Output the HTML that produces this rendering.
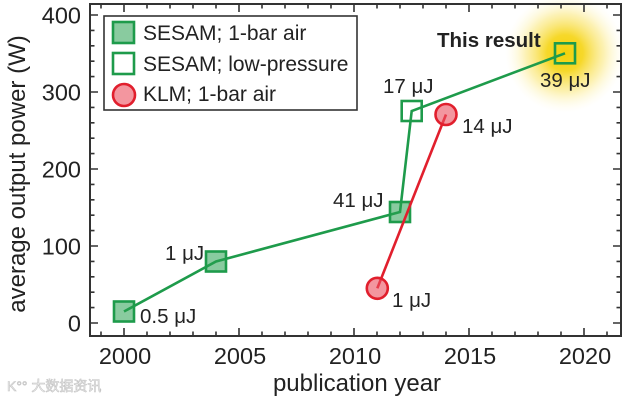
<!DOCTYPE html>
<html><head><meta charset="utf-8"><style>
html,body{margin:0;padding:0;background:#fff;}
svg{display:block;}
text{font-family:"Liberation Sans","Noto Sans CJK SC",sans-serif;fill:#222;}
</style></head><body>
<svg width="623" height="400" viewBox="0 0 623 400" xmlns="http://www.w3.org/2000/svg">
<defs>
<radialGradient id="glow" cx="565" cy="53" r="60" gradientUnits="userSpaceOnUse">
<stop offset="0" stop-color="#f4d20a"/>
<stop offset="0.3" stop-color="#f6d82a"/>
<stop offset="0.65" stop-color="#fbea8a" stop-opacity="0.65"/>
<stop offset="1" stop-color="#fffbe0" stop-opacity="0"/>
</radialGradient>
</defs>
<rect width="623" height="400" fill="#fff"/>
<circle cx="565" cy="53" r="60" fill="url(#glow)"/>

<!-- frame -->
<rect x="90" y="4" width="531" height="332" fill="none" stroke="#333" stroke-width="2"/>

<!-- ticks -->
<g stroke="#333" stroke-width="1.6">
<path d="M101,336v-4.5M124,336v-8M147,336v-4.5M170,336v-4.5M193,336v-4.5M216,336v-4.5M239,336v-8M262,336v-4.5M285,336v-4.5M308,336v-4.5M331,336v-4.5M354,336v-8M377,336v-4.5M400,336v-4.5M423,336v-4.5M446,336v-4.5M469,336v-8M492,336v-4.5M515,336v-4.5M538,336v-4.5M561,336v-4.5M584,336v-8M607,336v-4.5"/>
<path d="M101,4v4.5M124,4v8M147,4v4.5M170,4v4.5M193,4v4.5M216,4v4.5M239,4v8M262,4v4.5M285,4v4.5M308,4v4.5M331,4v4.5M354,4v8M377,4v4.5M400,4v4.5M423,4v4.5M446,4v4.5M469,4v8M492,4v4.5M515,4v4.5M538,4v4.5M561,4v4.5M584,4v8M607,4v4.5"/>
<path d="M90,323h8M90,307.6h4.5M90,292.2h4.5M90,276.8h4.5M90,261.4h4.5M90,246h8M90,230.6h4.5M90,215.2h4.5M90,199.8h4.5M90,184.4h4.5M90,169h8M90,153.6h4.5M90,138.2h4.5M90,122.8h4.5M90,107.4h4.5M90,92h8M90,76.6h4.5M90,61.2h4.5M90,45.8h4.5M90,30.4h4.5M90,15h8"/>
<path d="M621,323h-8M621,307.6h-4.5M621,292.2h-4.5M621,276.8h-4.5M621,261.4h-4.5M621,246h-8M621,230.6h-4.5M621,215.2h-4.5M621,199.8h-4.5M621,184.4h-4.5M621,169h-8M621,153.6h-4.5M621,138.2h-4.5M621,122.8h-4.5M621,107.4h-4.5M621,92h-8M621,76.6h-4.5M621,61.2h-4.5M621,45.8h-4.5M621,30.4h-4.5M621,15h-8"/>
</g>

<!-- tick labels -->
<g font-size="23.5" text-anchor="end">
<text x="81" y="331.5">0</text>
<text x="81" y="254.5">100</text>
<text x="81" y="177.5">200</text>
<text x="81" y="100.5">300</text>
<text x="81" y="23.5">400</text>
</g>
<g font-size="23.5" text-anchor="middle">
<text x="125" y="364">2000</text>
<text x="240" y="364">2005</text>
<text x="355" y="364">2010</text>
<text x="470" y="364">2015</text>
<text x="585" y="364">2020</text>
</g>

<!-- axis titles -->
<text x="357" y="391" font-size="24" text-anchor="middle">publication year</text>
<text transform="translate(25,174) rotate(-90)" font-size="24" text-anchor="middle">average output power (W)</text>

<!-- green line -->
<polyline points="124,311.5 216,261.5 400,212 411.7,111 565,53.3" fill="none" stroke="#1e9b4b" stroke-width="2.6"/>

<!-- filled squares -->
<g stroke="#1e9b4b" stroke-width="2.6" fill="rgba(40,160,80,0.55)">
<rect x="114" y="301.5" width="20" height="20"/>
<rect x="206" y="251.5" width="20" height="20"/>
<rect x="390" y="202" width="20" height="20"/>
</g>

<!-- red line (drawn over the filled square) -->
<line x1="377.3" y1="288.3" x2="446" y2="114.5" stroke="#e11f2d" stroke-width="2.6"/>

<g stroke="#1e9b4b" stroke-width="2.6" fill="none">
<rect x="401.7" y="101" width="20" height="20"/>
<rect x="555" y="43.3" width="20" height="20"/>
</g>
<g stroke="#e11f2d" stroke-width="2.6" fill="rgba(235,80,95,0.6)">
<circle cx="377.3" cy="288.3" r="10.5"/>
<circle cx="446" cy="114.5" r="10.5"/>
</g>

<!-- annotations -->
<g font-size="20.5">
<text x="140" y="323">0.5 μJ</text>
<text x="165" y="260">1 μJ</text>
<text x="333" y="207">41 μJ</text>
<text x="383" y="93">17 μJ</text>
<text x="462" y="133">14 μJ</text>
<text x="540" y="87">39 μJ</text>
<text x="392" y="307">1 μJ</text>
<text x="437" y="47" font-weight="bold">This result</text>
</g>

<!-- legend -->
<rect x="104" y="16" width="253" height="94" fill="#fff" stroke="#333" stroke-width="1.6"/>
<rect x="113" y="22" width="21" height="21" stroke="#1e9b4b" stroke-width="2.6" fill="rgba(40,160,80,0.55)"/>
<rect x="113" y="53" width="21" height="21" stroke="#1e9b4b" stroke-width="2.6" fill="none"/>
<circle cx="124" cy="95" r="11" stroke="#e11f2d" stroke-width="2.6" fill="rgba(235,80,95,0.6)"/>
<g font-size="21">
<text x="143" y="40">SESAM; 1-bar air</text>
<text x="143" y="71">SESAM; low-pressure</text>
<text x="143" y="101">KLM; 1-bar air</text>
</g>

<!-- watermark -->
<text x="7" y="391" font-size="14" style="fill:#f2f2f2;stroke:#c4c4c4;stroke-width:0.6">K°° 大数据资讯</text>
</svg>
</body></html>
